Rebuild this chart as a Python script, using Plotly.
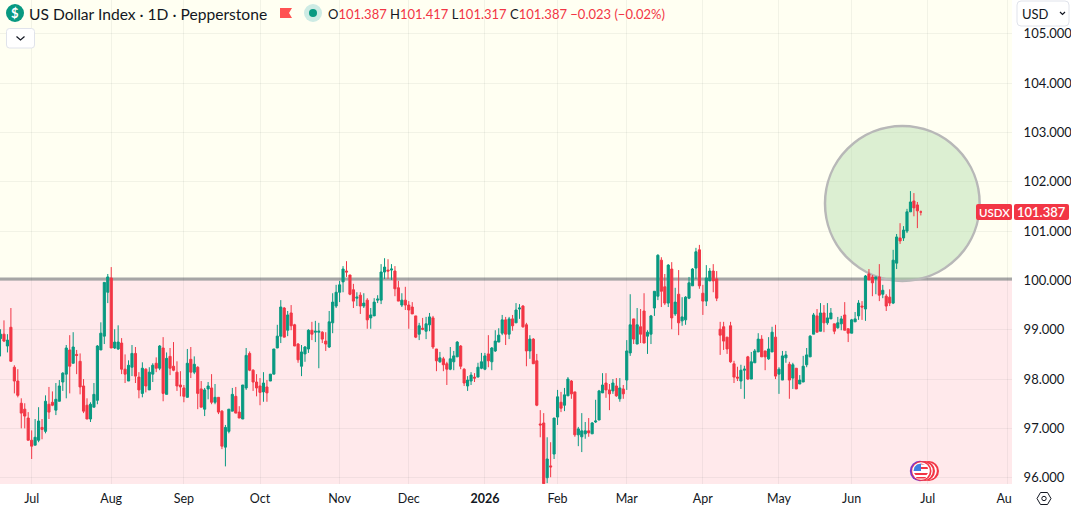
import plotly.graph_objects as go

# Daily OHLC for the US Dollar Index, one row of ten per line
opens = [
    98.82, 98.91, 98.67, 99.05, 98.24, 97.96, 97.51, 97.39, 97.21, 96.76,
    96.66, 96.76, 97.02, 96.94, 97.49, 97.53, 97.37, 97.55, 97.94, 98.10,
    98.59, 98.32, 98.50, 98.36, 97.86, 97.47, 97.19, 97.43, 97.57, 98.59,
    98.87, 99.76, 100.05, 98.63, 98.61, 98.73, 98.20, 97.96, 98.24, 98.52,
    98.04, 97.71, 98.20, 97.78, 98.10, 98.32, 98.22, 98.63, 97.69, 98.46,
    98.26, 98.14, 97.88, 97.82, 97.63, 98.40, 98.14, 98.24, 97.80, 97.39,
    97.80, 97.82, 97.53, 97.63, 97.35, 96.62, 96.94, 97.35, 97.65, 97.33,
    97.19, 97.82, 98.52, 98.18, 97.94, 97.86, 97.74, 97.84, 97.96, 98.10,
    98.63, 98.87, 99.44, 98.99, 99.34, 99.10, 98.71, 98.26, 98.51, 98.61,
    98.99, 98.95, 98.95, 98.95, 98.77, 98.65, 99.14, 99.48, 99.76, 99.97,
    100.19, 100.11, 99.81, 99.64, 99.70, 99.48, 99.60, 99.24, 99.28, 99.60,
    99.60, 100.17, 100.21, 100.21, 100.19, 99.85, 99.50, 99.60, 99.50, 99.46,
    99.28, 98.91, 99.03, 98.97, 99.10, 99.24, 98.61, 98.35, 98.41, 98.31,
    98.20, 98.35, 98.45, 98.67, 98.20, 97.86, 97.96, 98.04, 98.04, 98.22,
    98.20, 98.51, 98.35, 98.57, 98.75, 98.93, 99.20, 98.91, 99.22, 99.14,
    99.42, 99.48, 99.10, 98.57, 98.81, 98.37, 97.09, 97.11, 96.00, 96.24,
    96.48, 97.23, 97.53, 97.47, 97.66, 97.96, 97.74, 96.87, 96.83, 96.89,
    96.95, 96.89, 97.13, 97.17, 97.72, 97.92, 97.78, 97.76, 97.86, 97.60,
    97.80, 97.98, 98.53, 99.22, 98.71, 99.06, 99.38, 98.87, 98.91, 99.44,
    99.68, 100.41, 99.87, 99.54, 100.23, 99.32, 99.72, 99.18, 99.20, 99.64,
    99.89, 100.25, 100.62, 99.74, 99.58, 99.99, 100.19, 100.03, 99.01, 99.06,
    98.85, 99.08, 98.31, 98.04, 97.96, 98.18, 98.45, 98.00, 98.33, 98.55,
    98.81, 98.57, 98.41, 98.55, 98.85, 98.10, 97.98, 98.43, 98.30, 98.02,
    98.22, 97.90, 97.94, 98.29, 98.45, 98.91, 99.28, 98.97, 99.34, 99.14,
    99.22, 99.12, 99.04, 99.12, 99.30, 99.02, 98.93, 99.16, 99.28, 99.48,
    99.42, 100.13, 100.07, 100.03, 100.07, 99.72, 99.68, 99.66, 99.54, 100.35,
    100.86, 100.86, 101.00, 101.39, 101.61, 101.53, 101.387,
]
highs = [
    99.01, 99.19, 98.91, 99.44, 98.28, 98.20, 97.61, 97.51, 97.33, 96.96,
    97.19, 97.43, 97.19, 97.67, 97.84, 97.75, 97.92, 97.98, 98.14, 98.69,
    98.89, 98.95, 98.59, 98.52, 98.00, 97.61, 97.53, 97.92, 98.69, 99.15,
    99.96, 100.13, 100.27, 99.01, 99.09, 98.83, 98.50, 98.38, 98.69, 98.65,
    98.14, 98.34, 98.22, 98.24, 98.32, 98.44, 98.69, 98.85, 98.54, 98.63,
    98.75, 98.36, 98.16, 97.88, 98.61, 98.65, 98.46, 98.26, 97.96, 97.82,
    97.94, 98.10, 97.90, 97.63, 97.37, 97.07, 97.39, 97.82, 97.84, 97.45,
    97.88, 98.63, 98.56, 98.20, 98.10, 98.02, 98.14, 97.98, 98.10, 98.61,
    99.10, 99.60, 99.46, 99.38, 99.50, 99.12, 98.73, 98.69, 98.67, 99.01,
    99.16, 99.18, 99.14, 98.97, 98.95, 99.38, 99.74, 99.91, 99.99, 100.29,
    100.39, 100.11, 99.93, 99.76, 99.76, 99.74, 99.64, 99.44, 99.64, 99.70,
    100.33, 100.45, 100.43, 100.33, 100.29, 99.99, 99.74, 99.87, 99.58, 99.56,
    99.28, 99.14, 99.24, 99.26, 99.34, 99.28, 98.61, 98.55, 98.45, 98.35,
    98.65, 98.57, 98.77, 98.69, 98.22, 98.06, 98.14, 98.12, 98.33, 98.53,
    98.53, 98.89, 98.65, 98.99, 99.03, 99.30, 99.26, 99.26, 99.30, 99.54,
    99.52, 99.50, 99.14, 98.89, 98.83, 98.51, 97.37, 97.31, 96.82, 96.72,
    97.21, 97.78, 97.74, 97.82, 98.04, 97.98, 97.74, 97.03, 97.31, 97.13,
    97.21, 97.13, 97.58, 97.78, 98.12, 98.12, 97.90, 98.00, 98.02, 98.02,
    97.88, 98.79, 99.72, 99.22, 99.44, 99.42, 99.74, 98.99, 99.30, 99.78,
    100.53, 100.47, 100.13, 100.33, 100.37, 99.85, 100.21, 99.66, 99.68, 100.07,
    100.25, 100.66, 100.72, 99.91, 100.31, 100.25, 100.33, 100.19, 99.16, 99.16,
    98.85, 99.16, 98.37, 98.25, 98.29, 98.27, 98.47, 98.55, 98.61, 98.93,
    98.89, 98.57, 98.85, 99.06, 99.10, 98.24, 98.57, 98.57, 98.35, 98.33,
    98.22, 98.08, 98.47, 98.63, 98.89, 99.34, 99.42, 99.54, 99.50, 99.54,
    99.44, 99.12, 99.26, 99.28, 99.56, 99.02, 99.22, 99.36, 99.60, 99.58,
    100.11, 100.23, 100.11, 100.07, 100.33, 99.91, 99.72, 99.82, 100.62, 100.94,
    101.16, 101.10, 101.45, 101.81, 101.77, 101.59, 101.417,
]
lows = [
    98.46, 98.75, 98.54, 98.36, 97.71, 97.63, 97.00, 97.00, 96.76, 96.38,
    96.66, 96.72, 96.78, 96.90, 97.19, 97.45, 97.27, 97.55, 97.76, 97.61,
    97.71, 98.32, 98.10, 97.69, 97.31, 97.19, 97.13, 97.43, 97.49, 98.59,
    98.71, 99.54, 98.63, 98.61, 98.59, 98.10, 97.92, 97.96, 98.06, 97.92,
    97.61, 97.63, 97.73, 97.78, 97.94, 98.14, 98.18, 97.55, 97.69, 98.08,
    98.16, 97.76, 97.65, 97.53, 97.63, 98.02, 98.10, 97.39, 97.43, 97.25,
    97.59, 97.49, 97.49, 97.29, 96.58, 96.23, 96.90, 97.35, 97.31, 97.21,
    97.19, 97.78, 98.16, 97.76, 97.65, 97.47, 97.54, 97.54, 97.96, 98.10,
    98.63, 98.73, 98.85, 98.87, 98.99, 98.67, 98.33, 98.06, 98.35, 98.53,
    98.79, 98.75, 98.22, 98.73, 98.57, 98.63, 98.93, 99.44, 99.56, 99.76,
    100.07, 99.70, 99.44, 99.48, 99.32, 99.44, 99.02, 99.02, 99.28, 99.54,
    99.52, 100.03, 100.03, 100.01, 99.68, 99.58, 99.46, 99.40, 99.02, 99.32,
    98.83, 98.79, 98.99, 98.81, 98.97, 98.61, 98.16, 98.33, 98.16, 97.88,
    98.18, 98.18, 98.45, 98.20, 97.86, 97.76, 97.88, 97.94, 98.04, 98.20,
    98.18, 98.24, 98.18, 98.55, 98.75, 98.89, 98.69, 98.81, 98.98, 99.14,
    99.22, 99.04, 98.26, 98.41, 98.31, 97.45, 96.82, 95.80, 95.89, 96.01,
    96.38, 97.07, 97.33, 97.35, 97.66, 97.60, 96.83, 96.64, 96.52, 96.79,
    96.83, 96.89, 97.11, 97.17, 97.72, 97.62, 97.37, 97.70, 97.64, 97.54,
    97.60, 97.78, 98.47, 98.71, 98.71, 98.73, 98.73, 98.51, 98.71, 99.28,
    99.60, 99.46, 99.50, 99.46, 99.01, 99.28, 98.89, 99.08, 99.10, 99.62,
    99.89, 100.03, 99.83, 99.30, 99.48, 99.99, 99.76, 99.58, 98.49, 98.59,
    98.51, 98.33, 97.92, 97.96, 97.80, 97.60, 97.98, 98.00, 98.33, 98.55,
    98.45, 98.18, 98.39, 98.55, 98.00, 97.70, 97.98, 98.33, 97.60, 97.80,
    97.80, 97.90, 97.94, 98.24, 98.45, 98.91, 98.95, 98.97, 98.95, 99.10,
    99.22, 98.91, 99.02, 98.99, 98.99, 98.75, 98.93, 99.16, 99.20, 99.20,
    99.18, 100.01, 99.68, 99.72, 99.58, 99.64, 99.38, 99.48, 99.52, 100.23,
    100.74, 100.80, 100.96, 101.39, 101.30, 101.06, 101.317,
]
closes = [
    98.91, 98.77, 98.79, 98.36, 97.96, 97.67, 97.31, 97.25, 96.76, 96.64,
    96.82, 97.15, 96.98, 97.55, 97.33, 97.47, 97.59, 97.86, 98.12, 98.63,
    98.26, 98.65, 98.48, 97.84, 97.35, 97.19, 97.49, 97.69, 98.67, 98.93,
    99.96, 100.07, 98.63, 98.75, 98.75, 98.20, 98.10, 98.28, 98.52, 98.06,
    97.78, 98.22, 97.86, 98.14, 98.28, 98.22, 98.67, 97.71, 98.42, 98.22,
    98.18, 97.86, 97.84, 97.65, 98.32, 98.14, 98.30, 97.71, 97.43, 97.78,
    97.86, 97.53, 97.63, 97.33, 96.64, 97.02, 97.39, 97.69, 97.31, 97.21,
    97.88, 98.48, 98.18, 97.94, 97.82, 97.73, 97.92, 97.72, 98.10, 98.61,
    98.87, 99.46, 98.85, 99.30, 99.08, 98.67, 98.39, 98.55, 98.65, 98.99,
    98.91, 98.97, 98.97, 98.81, 98.71, 99.16, 99.56, 99.76, 99.91, 100.23,
    100.17, 99.72, 99.58, 99.66, 99.48, 99.54, 99.20, 99.30, 99.56, 99.62,
    100.17, 100.27, 100.19, 100.23, 99.83, 99.58, 99.60, 99.50, 99.40, 99.32,
    98.85, 99.08, 99.01, 99.12, 99.26, 98.65, 98.37, 98.43, 98.29, 98.20,
    98.41, 98.47, 98.75, 98.26, 97.92, 97.98, 98.08, 98.02, 98.24, 98.35,
    98.47, 98.37, 98.63, 98.77, 98.89, 99.20, 98.91, 99.22, 99.08, 99.40,
    99.44, 99.06, 98.57, 98.81, 98.31, 97.47, 97.07, 95.88, 96.38, 96.22,
    97.21, 97.64, 97.41, 97.68, 98.00, 97.70, 96.87, 96.99, 96.95, 96.95,
    96.91, 97.11, 97.15, 97.76, 97.88, 97.78, 97.70, 97.92, 97.66, 97.82,
    97.70, 98.57, 99.10, 98.81, 99.10, 98.91, 98.73, 98.95, 99.28, 99.78,
    100.51, 99.78, 99.54, 100.31, 99.24, 99.56, 99.14, 99.26, 99.66, 99.95,
    100.23, 100.58, 99.89, 99.58, 100.05, 100.19, 99.99, 99.64, 98.89, 98.77,
    98.61, 98.35, 98.04, 98.02, 98.18, 98.20, 98.00, 98.35, 98.57, 98.81,
    98.45, 98.45, 98.61, 98.95, 98.06, 98.20, 98.47, 98.49, 97.98, 98.29,
    97.80, 97.98, 98.26, 98.49, 98.87, 99.30, 98.95, 99.34, 99.14, 99.24,
    99.34, 98.97, 99.14, 99.22, 98.99, 98.93, 99.20, 99.22, 99.54, 99.46,
    100.09, 100.01, 99.95, 100.07, 99.70, 99.80, 99.48, 99.54, 100.41, 100.88,
    100.80, 101.02, 101.39, 101.59, 101.47, 101.41, 101.387,
]

month_bars = [9, 32, 53, 75, 98, 118, 140, 161, 181, 203, 225, 246, 268, 291]
month_labels = ["Jul", "Aug", "Sep", "Oct", "Nov", "Dec", "<b>2026</b>", "Feb",
                "Mar", "Apr", "May", "Jun", "Jul", "Aug"]
price_ticks = [96, 97, 98, 99, 100, 101, 102, 103, 104, 105]
level = 100.03
zone_high = 105.684
zone_low = 95.873
bar_range = [-0.15, 292.35]

UP = "#089981"
DOWN = "#F23645"
INK = "#131722"
FONT = "Lato"
W, H = 1071, 507
PW, PH = 1012, 484


def fx(px):
    return px / PW


def fy(py):
    return 1 - py / PH


def circle(cx, cy, r, fill, line=None, width=0):
    return dict(type="circle", xref="paper", yref="paper", layer="above",
                x0=fx(cx - r), x1=fx(cx + r), y0=fy(cy + r), y1=fy(cy - r),
                fillcolor=fill, line=dict(color=line or fill, width=width))


def box(x0, y0, x1, y1, fill, line=None, width=0, r=0):
    if r == 0:
        return dict(type="rect", xref="paper", yref="paper", layer="above",
                    x0=fx(x0), x1=fx(x1), y0=fy(y1), y1=fy(y0),
                    fillcolor=fill, line=dict(color=line or fill, width=width))
    a, b, c, d = fx(x0), fx(x1), fy(y0), fy(y1)
    rx, ry = r / PW, r / PH
    path = (f"M{a + rx},{c} L{b - rx},{c} Q{b},{c} {b},{c - ry} L{b},{d + ry} Q{b},{d} {b - rx},{d} "
            f"L{a + rx},{d} Q{a},{d} {a},{d + ry} L{a},{c - ry} Q{a},{c} {a + rx},{c} Z")
    return dict(type="path", xref="paper", yref="paper", layer="above", path=path,
                fillcolor=fill, line=dict(color=line or fill, width=width))


def poly(points, fill="rgba(0,0,0,0)", line=None, width=0, closed=True):
    path = "M" + " L".join(f"{fx(x)},{fy(y)}" for x, y in points) + (" Z" if closed else "")
    return dict(type="path", xref="paper", yref="paper", layer="above", path=path,
                fillcolor=fill, line=dict(color=line or "rgba(0,0,0,0)", width=width))


def label(px, py, text, size=13, color=INK, anchor="left", weight=None):
    return dict(xref="paper", yref="paper", x=fx(px), y=fy(py), text=text, showarrow=False,
                xanchor=anchor, yanchor="middle", align=anchor,
                font=dict(family=FONT, size=size, color=color, weight=weight),
                borderpad=0, xshift=0, yshift=0)


fig = go.Figure(go.Candlestick(
    x=list(range(len(closes))), open=opens, high=highs, low=lows, close=closes,
    increasing=dict(line=dict(color=UP, width=1), fillcolor=UP),
    decreasing=dict(line=dict(color=DOWN, width=1), fillcolor=DOWN),
    whiskerwidth=0, hoverinfo="skip", showlegend=False,
))

shapes = [
    # Zones above and below the 100 level
    dict(type="rect", xref="paper", yref="y", x0=0, x1=1, y0=level, y1=zone_high,
         fillcolor="#FFFFF2", line_width=0, layer="below"),
    dict(type="rect", xref="paper", yref="y", x0=0, x1=1, y0=zone_low, y1=level,
         fillcolor="#FFE9EB", line_width=0, layer="below"),
    # Highlighted breakout area
    dict(type="circle", xref="x", yref="y", x0=238.3, x1=283.0, y0=99.99, y1=103.13,
         fillcolor="rgba(178,219,170,0.45)", line=dict(color="#B8B8B8", width=2.5), layer="between"),
    dict(type="line", xref="paper", yref="y", x0=0, x1=1, y0=level, y1=level,
         line=dict(color="#A6A6A6", width=3), layer="between"),
    # Masks the part of the last month label that runs into the price scale
    box(PW, PH, 1036, H, "#FFFFFF"),
    # Legend icons
    circle(15, 13, 9, UP),
    poly([(280, 8), (292, 8), (289, 13), (292, 18), (280, 18)], fill="#FF5252"),
    circle(313, 13, 9, "#CDEBE4"),
    circle(313, 13, 4, UP),
    # Legend collapse button
    box(6.5, 28.5, 34.5, 48, "#FFFFFF", "#E0E3EB", 1, 3),
    poly([(16.5, 36.5), (20.5, 40), (24.5, 36.5)], line=INK, width=1.2, closed=False),
    # Currency selector
    box(1017, 1, 1069, 26, "#FFFFFF", "#E0E3EB", 1, 4),
    poly([(1060, 12), (1062.5, 14.5), (1065, 12)], line=INK, width=1.2, closed=False),
    # Last price tags
    box(976, 204, 1012, 220, DOWN, r=2),
    box(1014, 204, 1069, 220, DOWN, r=2),
    # Scale settings icon
    poly([(1037, 498.5), (1040.5, 492.5), (1047.5, 492.5), (1051, 498.5), (1047.5, 504.5), (1040.5, 504.5)],
         line=INK, width=1),
    circle(1044, 498.5, 2.2, "#FFFFFF", INK, 1),
    # Event marker stack
    circle(929, 471, 10, "#F23645"), circle(928, 471, 8.8, "#FFFFFF"),
    circle(925, 471, 10, "#F23645"), circle(924, 471, 8.8, "#FFFFFF"),
    circle(920, 471, 10.2, "#7B35C9"), circle(921.5, 471, 10, "#F23645"),
    circle(921, 471, 8.8, "#FFFFFF"),
    # US flag on the front marker
    poly([(914, 473), (928, 473), (926.5, 475), (915.5, 475)], fill="#F23645"),
    poly([(915.5, 477), (926.5, 477), (924.5, 478.5), (917.5, 478.5)], fill="#F23645"),
    poly([(921, 467), (927.5, 467), (928, 469), (921, 469)], fill="#F23645"),
    poly([(921, 463.5), (925, 464.5), (921, 464.5)], fill="#F23645"),
    poly([(921, 463.5), (921, 471), (913.5, 471), (914.5, 467), (917, 464.5)], fill="#3F7FE0"),
]

head_red = DOWN
ohlc = (
    f'O<span style="color:{head_red}">{opens[-1]:.3f}</span> '
    f'H<span style="color:{head_red}">{highs[-1]:.3f}</span> '
    f'L<span style="color:{head_red}">{lows[-1]:.3f}</span> '
    f'C<span style="color:{head_red}">{closes[-1]:.3f}</span> '
    f'<span style="color:{head_red}">\u22120.023 (\u22120.02%)</span>'
)

annotations = [
    label(15, 13, "<b>$</b>", size=13, color="#FFFFFF", anchor="center"),
    label(28, 13.5, "US Dollar Index \u00b7 1D \u00b7 Pepperstone", size=15.6),
    label(327, 13.5, ohlc, size=13),
    label(1021, 13.5, "USD", size=13),
    label(994, 212, "USDX", size=11.5, color="#FFFFFF", anchor="center", weight=600),
    label(1041.5, 212, f"{closes[-1]:.3f}", size=13, color="#FFFFFF", anchor="center", weight=600),
]

fig.update_layout(
    width=W, height=H, autosize=False,
    margin=dict(l=0, r=W - PW, t=0, b=H - PH),
    paper_bgcolor="#FFFFFF", plot_bgcolor="#FFFFFF",
    font=dict(family=FONT, size=13, color=INK),
    boxgap=0.12, showlegend=False, dragmode=False,
    shapes=shapes, annotations=annotations,
    xaxis=dict(
        range=bar_range, rangeslider=dict(visible=False), tickmode="array",
        tickvals=month_bars, ticktext=month_labels, showgrid=True,
        gridcolor="rgba(42,46,57,0.06)", gridwidth=1, zeroline=False, showline=False,
        ticks="outside", ticklen=3, tickcolor="rgba(0,0,0,0)", tickfont=dict(size=12.5),
    ),
    yaxis=dict(
        range=[zone_low, zone_high], side="right", tickmode="array",
        tickvals=price_ticks, ticktext=[f"{v:.3f}" for v in price_ticks], showgrid=True,
        gridcolor="rgba(42,46,57,0.06)", gridwidth=1, zeroline=False, showline=False,
        ticks="outside", ticklen=8, tickcolor="rgba(0,0,0,0)", tickfont=dict(size=13),
    ),
)

fig.write_html("out.html", config=dict(displayModeBar=False, staticPlot=True))
